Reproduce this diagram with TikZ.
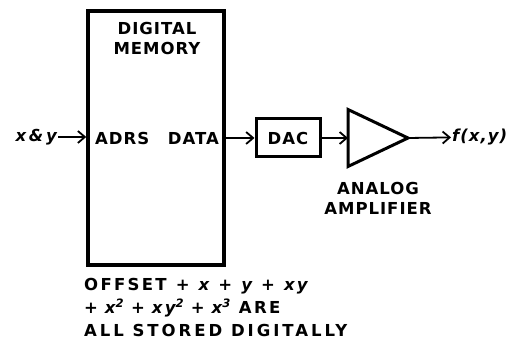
\documentclass[tikz,border=0pt]{standalone}
\usepackage{fontspec}
\setmainfont{DejaVu Sans}[LetterSpace=6]
\usepackage{tikz}
\usetikzlibrary{shapes.geometric, arrows.meta, positioning}
\tikzstyle{arrow} = [line width=1.8pt, -{Straight Barb[length=7pt,width=12pt,line width=1.8pt]}]
\newcommand{\pl}{\hspace{0.55em}+\hspace{0.55em}}
\newcommand{\plb}{\hspace{0.42em}+\hspace{0.42em}}

\begin{document}
\begin{tikzpicture}[
    x=1pt, y=-1pt,
    every node/.style={font=\fontsize{16.5}{20}\selectfont\bfseries},
    block/.style={draw, line width=3pt, inner sep=0pt},
    amp/.style={draw, line width=3pt, isosceles triangle, isosceles triangle stretches,
                shape border rotate=0, inner sep=0pt, outer sep=0pt,
                minimum width=57pt, minimum height=60pt}
]
    \useasboundingbox (0,0) rectangle (507,350);

    % Digital memory
    \node[block, line width=3.5pt, minimum width=136pt, minimum height=254pt] (mem) at (156,138) {};
    \node[align=center] (memlbl) at (157,38) {DIGITAL\\MEMORY};
    \node[anchor=west, inner sep=0pt] (adrs) at (95,138) {ADRS};
    \node[anchor=east, inner sep=0pt] (data) at (219,138) {DATA};

    % Input
    \node[anchor=east, inner sep=1pt] (in) at (58,137) {\itshape x\,\&\,y};

    % DAC and amplifier
    \node[block, minimum width=64pt, minimum height=38pt] (dac) at (288,138) {DAC};
    \node[amp, anchor=west] (ampl) at (348,138) {};
    \node[align=center] (ampllbl) at (378,198) {ANALOG\\AMPLIFIER};

    % Output
    \node[anchor=west, inner sep=1pt] (out) at (451,137) {\itshape f(x,y)};

    % Signal arrows
    \draw[arrow] (in) -- (mem.west |- in);
    \draw[arrow] (mem.east |- dac) -- (dac);
    \draw[arrow] (dac) -- (ampl.west);
    \draw[arrow] (ampl.apex) -- (out);

    % Note
    \node[anchor=north west, align=left, inner sep=0pt,
          font=\fontsize{16.5}{23}\selectfont\bfseries\addfontfeatures{LetterSpace=14}] (note) at (84,278)
        {OFFSET\pl{\itshape x}\pl{\itshape y}\pl{\itshape xy}\\
         +\hspace{0.42em}{\itshape x\textsuperscript{2}}\plb{\itshape xy\textsuperscript{2}}\plb{\itshape x\textsuperscript{3}} ARE\\
         {\addfontfeatures{LetterSpace=18}ALL STORED DIGITALLY}};

\end{tikzpicture}
\end{document}
